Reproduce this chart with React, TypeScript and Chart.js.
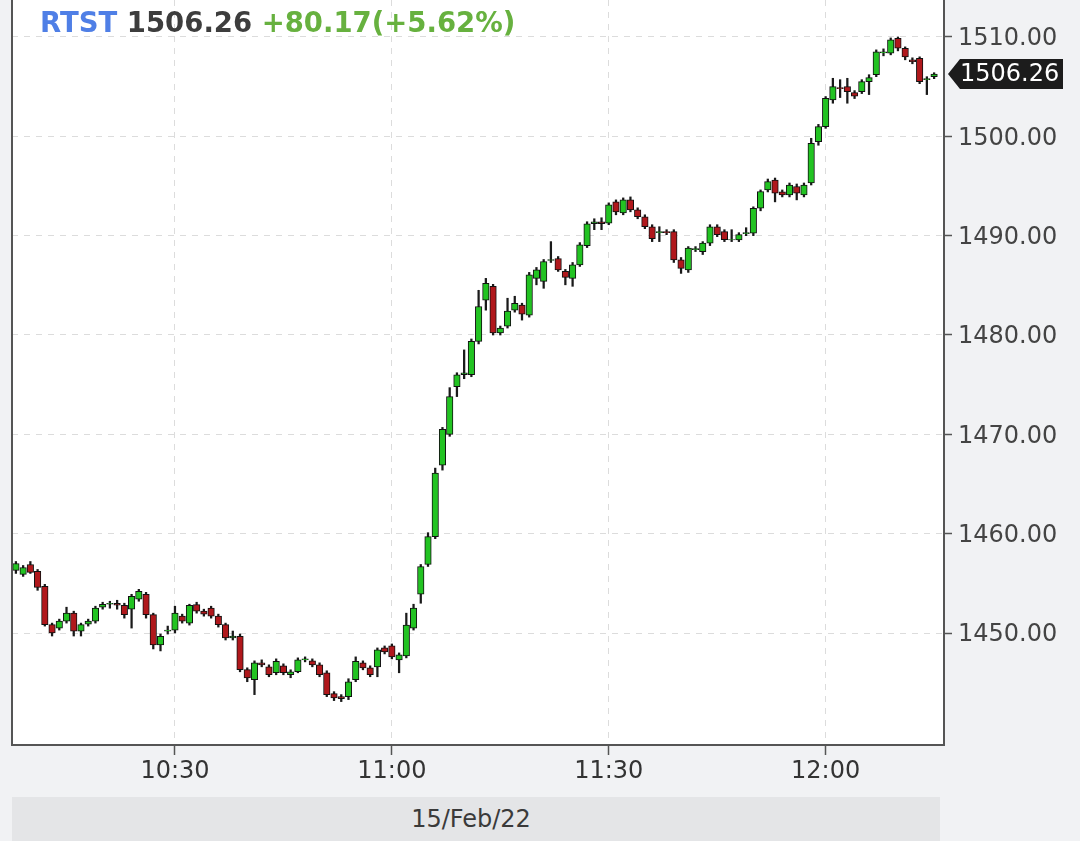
import { Chart, registerables } from 'chart.js'
import { useEffect, useRef } from "react"

Chart.register(...registerables)

// minutes after midnight of the first candle (10:08), one candle per minute
const startMinute = 608

const opens = [
    1456.3, 1455.9, 1456.9, 1456.2, 1454.7, 1450.85, 1450.5, 1451.2, 1452.0, 1450.2,
    1450.9, 1451.2, 1452.6, 1452.9, 1453.0, 1452.8, 1452.4, 1453.4, 1453.9, 1451.85,
    1448.8, 1450.2, 1450.3, 1451.7, 1451.0, 1452.86, 1452.2, 1452.5, 1451.7, 1450.85,
    1449.5, 1449.67, 1446.32, 1445.3, 1447.0, 1446.6, 1446.0, 1446.7, 1445.8, 1446.1,
    1447.3, 1447.2, 1446.8, 1446.0, 1443.9, 1443.6, 1443.6, 1445.3, 1447.0, 1446.5,
    1446.6, 1448.5, 1448.7, 1447.3, 1447.7, 1450.5, 1453.9, 1456.9, 1459.7, 1466.9,
    1470.0, 1474.8, 1476.0, 1476.0, 1479.35, 1483.5, 1484.9, 1480.2, 1480.9, 1482.5,
    1483.0, 1482.0, 1485.7, 1485.4, 1487.5, 1487.7, 1486.4, 1485.7, 1487.06, 1489.0,
    1491.2, 1491.4, 1491.25, 1493.4, 1492.3, 1493.6, 1492.6, 1491.9, 1490.9, 1490.3,
    1490.4, 1490.4, 1487.56, 1486.56, 1488.6, 1488.4, 1489.24, 1490.9, 1490.4, 1489.57,
    1489.57, 1490.2, 1490.24, 1492.76, 1494.6, 1495.6, 1494.4, 1494.1, 1494.95, 1494.1,
    1495.3, 1499.47, 1500.98, 1503.66, 1504.9, 1505.0, 1504.4, 1504.5, 1505.5, 1506.2,
    1508.4, 1508.36, 1509.86, 1508.86, 1507.7, 1507.85, 1505.7, 1506.0,
]
const highs = [
    1457.2, 1456.8, 1457.2, 1456.4, 1454.9, 1451.0, 1451.4, 1452.6, 1452.2, 1451.0,
    1451.4, 1452.7, 1453.1, 1453.2, 1453.3, 1453.0, 1453.9, 1454.4, 1454.1, 1452.0,
    1449.9, 1450.7, 1452.7, 1451.9, 1452.9, 1453.1, 1452.4, 1452.7, 1451.9, 1451.0,
    1450.2, 1449.9, 1446.5, 1447.2, 1447.3, 1446.8, 1447.4, 1446.9, 1446.3, 1447.5,
    1447.6, 1447.4, 1447.0, 1446.2, 1444.1, 1443.8, 1445.4, 1447.6, 1447.2, 1446.7,
    1448.5, 1448.7, 1448.9, 1448.0, 1452.0, 1452.9, 1456.9, 1460.1, 1466.6, 1470.7,
    1474.7, 1476.2, 1478.5, 1479.6, 1484.5, 1485.7, 1485.1, 1480.9, 1483.7, 1483.9,
    1483.2, 1486.3, 1486.8, 1487.6, 1489.4, 1487.9, 1486.6, 1487.3, 1489.3, 1491.4,
    1491.7, 1491.8, 1493.3, 1493.6, 1493.8, 1493.9, 1492.8, 1492.1, 1491.1, 1490.9,
    1490.6, 1490.6, 1487.8, 1488.9, 1488.9, 1489.4, 1491.1, 1491.1, 1490.6, 1490.6,
    1490.3, 1490.8, 1492.9, 1494.6, 1495.7, 1495.8, 1494.6, 1495.3, 1495.2, 1495.3,
    1499.8, 1501.2, 1504.0, 1505.84, 1505.7, 1505.84, 1504.6, 1505.7, 1506.2, 1508.7,
    1508.8, 1509.9, 1510.0, 1509.0, 1507.9, 1508.0, 1506.0, 1506.4,
]
const lows = [
    1456.0, 1455.7, 1456.0, 1454.3, 1450.7, 1449.7, 1450.3, 1451.0, 1449.7, 1449.7,
    1450.7, 1451.0, 1452.4, 1452.5, 1452.4, 1451.5, 1450.5, 1453.2, 1451.5, 1448.4,
    1448.2, 1449.9, 1450.0, 1451.0, 1450.8, 1452.0, 1451.7, 1451.5, 1450.6, 1449.3,
    1449.3, 1446.1, 1445.1, 1443.8, 1446.6, 1445.6, 1445.8, 1445.8, 1445.5, 1446.0,
    1447.1, 1446.6, 1445.6, 1443.6, 1443.2, 1443.1, 1443.3, 1445.1, 1446.3, 1445.6,
    1445.6, 1447.9, 1447.4, 1446.0, 1447.5, 1450.3, 1453.0, 1456.7, 1459.5, 1466.4,
    1469.8, 1473.8, 1475.6, 1475.8, 1479.1, 1482.5, 1480.0, 1480.0, 1480.7, 1482.3,
    1481.5, 1481.8, 1485.05, 1484.7, 1487.3, 1486.4, 1485.05, 1484.9, 1486.9, 1488.8,
    1490.6, 1490.6, 1491.1, 1492.1, 1492.1, 1492.4, 1491.7, 1490.7, 1489.4, 1489.4,
    1490.1, 1487.3, 1486.2, 1486.3, 1488.4, 1488.1, 1489.0, 1489.9, 1489.4, 1489.4,
    1489.4, 1490.0, 1490.0, 1492.5, 1494.4, 1493.4, 1493.9, 1493.9, 1493.6, 1493.9,
    1495.1, 1499.1, 1500.8, 1503.33, 1503.9, 1503.33, 1503.8, 1504.3, 1504.2, 1506.0,
    1508.1, 1508.2, 1508.6, 1507.7, 1507.3, 1505.3, 1504.2, 1505.8,
]
const closes = [
    1457.0, 1456.6, 1456.1, 1454.6, 1450.85, 1450.0, 1451.2, 1452.0, 1450.2, 1450.85,
    1451.2, 1452.5, 1452.9, 1453.0, 1452.8, 1451.85, 1453.7, 1454.2, 1451.85, 1448.8,
    1449.67, 1450.3, 1452.0, 1451.2, 1452.8, 1452.2, 1451.9, 1451.7, 1450.85, 1449.5,
    1449.7, 1446.32, 1445.48, 1447.0, 1446.8, 1445.8, 1447.15, 1446.0, 1446.1, 1447.3,
    1447.4, 1446.8, 1445.8, 1443.8, 1443.47, 1443.4, 1445.1, 1447.15, 1446.5, 1445.8,
    1448.3, 1448.1, 1447.6, 1447.8, 1450.8, 1452.5, 1456.7, 1459.7, 1466.1, 1470.5,
    1473.8, 1476.0, 1476.2, 1479.35, 1482.87, 1485.2, 1480.2, 1480.7, 1482.4, 1483.2,
    1482.1, 1486.05, 1486.56, 1487.4, 1487.6, 1486.56, 1485.8, 1487.06, 1489.07, 1491.2,
    1491.4, 1491.2, 1493.1, 1492.4, 1493.6, 1492.6, 1491.9, 1490.9, 1489.7, 1490.4,
    1490.3, 1487.56, 1486.7, 1488.74, 1488.7, 1489.24, 1490.9, 1490.1, 1489.6, 1489.6,
    1490.1, 1490.3, 1492.76, 1494.44, 1495.44, 1494.27, 1494.1, 1495.1, 1494.27, 1495.1,
    1499.3, 1500.98, 1503.83, 1505.0, 1504.8, 1504.5, 1504.05, 1505.5, 1505.9, 1508.5,
    1508.5, 1509.7, 1508.86, 1508.0, 1507.5, 1505.5, 1505.8, 1506.26,
]

const priceTicks = [1450, 1460, 1470, 1480, 1490, 1500, 1510]
const timeTicks = [630, 660, 690, 720]
const timeLabels = ['10:30', '11:00', '11:30', '12:00']

const symbol = 'RTST'
const lastText = '1506.26'
const changeText = '+80.17(+5.62%)'
const dateText = '15/Feb/22'

const upColor = '#22c322'
const downColor = '#b0181c'

const framePlugin = {
    id: 'frame',
    beforeDraw(chart: any) {
        const { ctx, chartArea: a } = chart
        ctx.save()
        ctx.fillStyle = '#ffffff'
        ctx.fillRect(a.left, a.top, a.right - a.left, a.bottom - a.top)
        ctx.restore()
    },
    afterDraw(chart: any) {
        const { ctx, chartArea: a, scales } = chart
        ctx.save()
        ctx.strokeStyle = '#555'
        ctx.lineWidth = 2
        ctx.beginPath()
        ctx.moveTo(a.left, a.top)
        ctx.lineTo(a.left, a.bottom)
        ctx.stroke()
        // last price tag on the price axis
        const y = scales.y.getPixelForValue(closes[closes.length - 1])
        const x0 = a.right + 4
        const x1 = chart.width - 17
        ctx.fillStyle = '#1c1c1c'
        ctx.beginPath()
        ctx.moveTo(x0, y)
        ctx.lineTo(x0 + 12, y - 15)
        ctx.lineTo(x1, y - 15)
        ctx.lineTo(x1, y + 15)
        ctx.lineTo(x0 + 12, y + 15)
        ctx.closePath()
        ctx.fill()
        ctx.fillStyle = '#ffffff'
        ctx.font = '24px "DejaVu Sans"'
        ctx.textAlign = 'left'
        ctx.textBaseline = 'middle'
        ctx.fillText(closes[closes.length - 1].toFixed(2), x0 + 12, y + 1)
        ctx.restore()
    },
}

export default function App() {
    const canvasRef = useRef<HTMLCanvasElement>(null)
    useEffect(() => {
        const ctx = canvasRef.current
        if (ctx == null) return
        Chart.defaults.font.family = '"DejaVu Sans"'
        const wicks = lows.map((l, i) => ({ x: startMinute + i, y: [l, highs[i]] }))
        const bodies = opens.map((o, i) => ({ x: startMinute + i, y: [o, closes[i]] }))
        const bodyColors = opens.map((o, i) => closes[i] >= o ? upColor : downColor)
        const chart = new Chart(ctx, {
            type: 'bar',
            data: {
                datasets: [
                    {
                        label: 'body',
                        data: bodies as any,
                        backgroundColor: bodyColors,
                        borderColor: '#111',
                        borderWidth: 1,
                        borderSkipped: false,
                        barThickness: 6.5,
                        grouped: false,
                        order: 0,
                    },
                    {
                        label: 'wick',
                        data: wicks as any,
                        backgroundColor: '#1a1a1a',
                        borderWidth: 0,
                        barThickness: 1.6,
                        grouped: false,
                        order: 1,
                    },
                ],
            },
            options: {
                animation: false,
                responsive: true,
                maintainAspectRatio: false,
                layout: { padding: { left: 12, top: 0, right: 0, bottom: 0 } },
                plugins: {
                    legend: { display: false },
                    tooltip: { enabled: false },
                },
                scales: {
                    x: {
                        type: 'linear',
                        min: startMinute - 0.54,
                        max: startMinute + 128.37,
                        offset: false,
                        afterFit: (scale: any) => {
                            scale.height = 96
                            scale.paddingLeft = 0
                            scale.paddingRight = 0
                        },
                        afterBuildTicks: (scale: any) => {
                            scale.ticks = timeTicks.map(v => ({ value: v }))
                        },
                        ticks: {
                            autoSkip: false,
                            maxRotation: 0,
                            padding: 2,
                            color: '#333',
                            font: { size: 24 },
                            callback: (v: any) => timeLabels[timeTicks.indexOf(Number(v))],
                        },
                        grid: {
                            offset: false,
                            color: '#dcdcdc',
                            tickColor: '#555',
                            tickLength: 10,
                            tickWidth: 1.5,
                        },
                        border: { color: '#555', width: 2, dash: [6, 6] },
                    },
                    y: {
                        position: 'right',
                        min: 1438.73,
                        max: 1513.72,
                        afterFit: (scale: any) => {
                            scale.width = 136
                            scale.paddingTop = 0
                            scale.paddingBottom = 0
                        },
                        afterBuildTicks: (scale: any) => {
                            scale.ticks = priceTicks.map(v => ({ value: v }))
                        },
                        ticks: {
                            padding: 6,
                            labelOffset: 2,
                            color: '#444',
                            font: { size: 24 },
                            callback: (v: any) => Number(v).toFixed(2),
                        },
                        grid: {
                            color: '#dcdcdc',
                            tickColor: '#555',
                            tickLength: 8,
                            tickWidth: 1.5,
                        },
                        border: { color: '#555', width: 2, dash: [6, 6] },
                    },
                },
            },
            plugins: [framePlugin],
        })
        return () => chart.destroy()
    }, [canvasRef])

    return (
        <div style={{ position: 'fixed', left: 0, top: 0, width: 1080, height: 841, background: '#f1f2f4', overflow: 'hidden', fontFamily: '"DejaVu Sans"' }}>
            <canvas ref={canvasRef} style={{ position: 'absolute', left: 0, top: 0, width: 1080, height: 841 }} />
            <div style={{ position: 'absolute', left: 40, top: 6, lineHeight: '32px', fontSize: 27.5, fontWeight: 'bold', whiteSpace: 'nowrap' }}>
                <span style={{ color: '#4f7fe6' }}>{symbol}</span>{' '}
                <span style={{ color: '#3d3d3d' }}>{lastText}</span>{' '}
                <span style={{ color: '#67b13f' }}>{changeText}</span>
            </div>
            <div style={{ position: 'absolute', left: 12, top: 797, width: 928, height: 44, background: '#e4e5e7', color: '#3a3a3a', fontSize: 24, lineHeight: '44px', textAlign: 'center', paddingRight: 10, boxSizing: 'border-box' }}>
                {dateText}
            </div>
        </div>
    )
}
